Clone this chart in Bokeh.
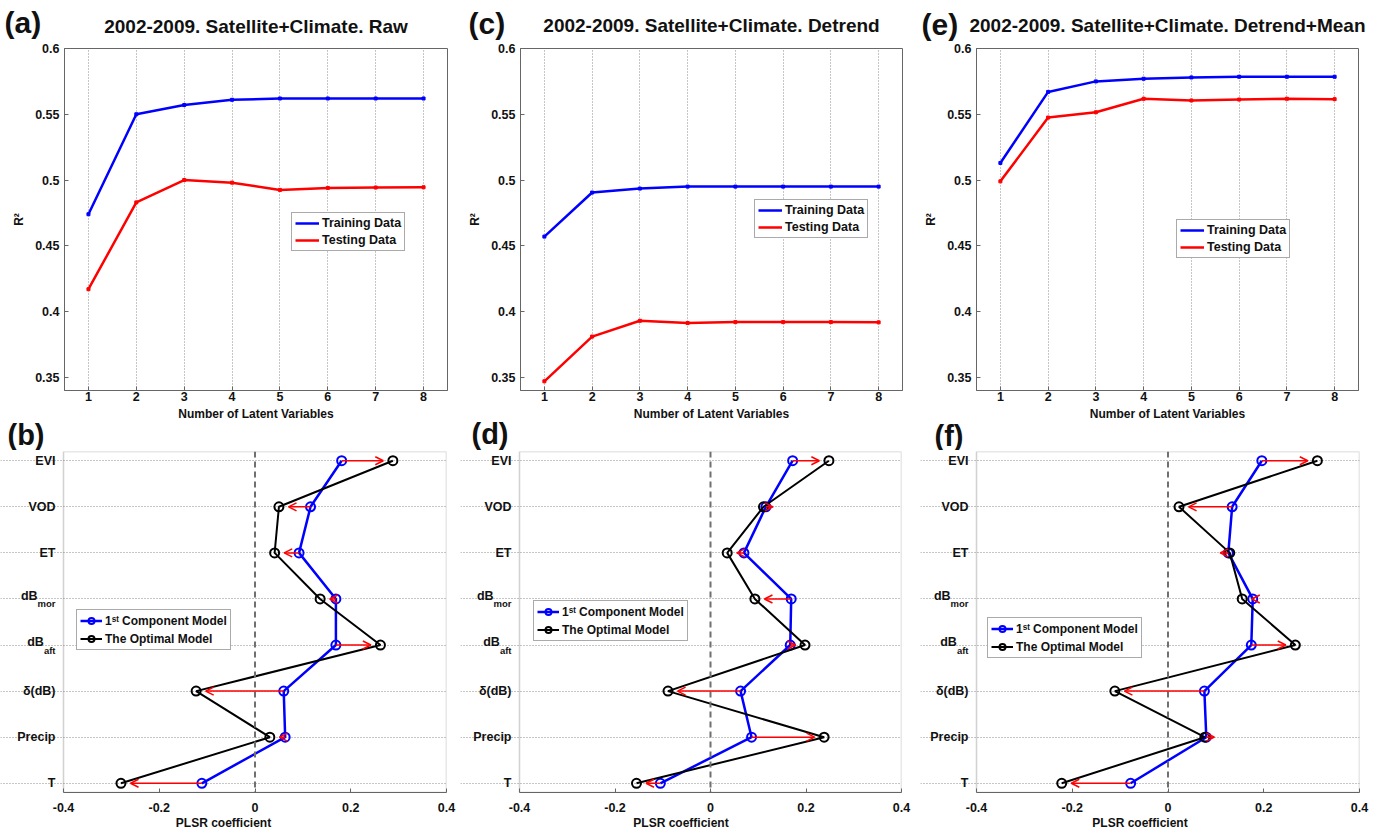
import numpy as np
from bokeh.plotting import figure
from bokeh.models import (Range1d, FixedTicker, Label, Legend, LegendItem, Span,
                          Arrow, OpenHead, ColumnDataSource, BoxAnnotation)
from bokeh.layouts import column, row
from bokeh.embed import file_html
from bokeh.resources import INLINE

# ---------------- data ----------------
n_latent = [1, 2, 3, 4, 5, 6, 7, 8]
train_raw = [0.474, 0.550, 0.557, 0.561, 0.562, 0.562, 0.562, 0.562]
test_raw = [0.417, 0.483, 0.500, 0.498, 0.4925, 0.494, 0.4943, 0.4945]
train_detrend = [0.457, 0.4905, 0.4935, 0.495, 0.495, 0.495, 0.495, 0.495]
test_detrend = [0.347, 0.381, 0.393, 0.3913, 0.392, 0.392, 0.392, 0.3918]
train_dmean = [0.513, 0.567, 0.575, 0.577, 0.578, 0.5785, 0.5785, 0.5785]
test_dmean = [0.499, 0.5475, 0.5515, 0.5618, 0.5605, 0.5612, 0.5618, 0.5615]

r2_ticks = [0.35, 0.4, 0.45, 0.5, 0.55, 0.6]
r2_tick_labels = ["0.35", "0.4", "0.45", "0.5", "0.55", "0.6"]

variables = ["EVI", "VOD", "ET", "dB_mor", "dB_aft", "δ(dB)", "Precip", "T"]
first_raw = [0.181, 0.116, 0.092, 0.169, 0.169, 0.060, 0.063, -0.111]
opt_raw = [0.288, 0.050, 0.041, 0.136, 0.262, -0.123, 0.031, -0.280]
first_detrend = [0.172, 0.116, 0.070, 0.169, 0.167, 0.063, 0.086, -0.105]
opt_detrend = [0.248, 0.111, 0.035, 0.093, 0.198, -0.089, 0.238, -0.155]
first_dmean = [0.196, 0.134, 0.126, 0.177, 0.174, 0.076, 0.080, -0.078]
opt_dmean = [0.312, 0.023, 0.129, 0.155, 0.266, -0.111, 0.077, -0.222]

coef_ticks = [-0.4, -0.2, 0.0, 0.2, 0.4]
coef_tick_labels = ["-0.4", "-0.2", "0", "0.2", "0.4"]

titles = ["2002-2009. Satellite+Climate. Raw",
          "2002-2009. Satellite+Climate. Detrend",
          "2002-2009. Satellite+Climate. Detrend+Mean"]
top_xlabel = "Number of Latent Variables"
letters_top = ["(a)", "(c)", "(e)"]
letters_bottom = ["(b)", "(d)", "(f)"]

FONT = "Liberation Sans"
AX = "#666666"
GRID = "#8c8c8c"
TXT = "#111111"

# ---------------- geometry (pixels) ----------------
W = 1381
col_w = [460, 460, 461]
col_x0 = [0, 460, 920]
top_left = [64, 60, 56]
top_fw = [383, 382, 382]
bot_left = [63, 59, 56]
bot_fw = [383, 382, 383]
STRIP1_H = 42                     # letters + titles
TOP_H, TOP_T, TOP_FH = 363, 6, 342
STRIP2_H = 45                     # x-axis titles of the top row + letters (b),(d),(f)
BOT_H, BOT_T, BOT_FH = 383, 1, 341
top_legend_loc = [(227, 139), (234, 152), (200, 132)]
bot_legend_loc = [(13, 142), (14, 151), (11, 134)]
top_letter_pos = [(4, 22), (468, 23), (921, 24)]
bot_letter_pos = [(7, 434), (471, 433), (934, 435)]
title_y = [26, 25, 25]
xlabel_y = 413

# approximate Arial-bold advance widths (em) for subscript letters
ADV = {"m": 0.889, "o": 0.611, "r": 0.389, "a": 0.556, "f": 0.333, "t": 0.333}


def style_axis(ax, size="12.5px"):
    ax.axis_line_color = AX
    ax.major_tick_line_color = AX
    ax.minor_tick_line_color = None
    ax.major_tick_in = 4
    ax.major_tick_out = 0
    ax.major_label_text_font = FONT
    ax.major_label_text_font_style = "bold"
    ax.major_label_text_font_size = size
    ax.major_label_text_color = TXT
    ax.axis_label_text_font = FONT
    ax.axis_label_text_font_style = "bold"
    ax.axis_label_text_font_size = "12px"
    ax.axis_label_text_color = TXT


def style_legend(leg, size="12.5px"):
    leg.label_text_font = FONT
    leg.label_text_font_style = "bold"
    leg.label_text_font_size = size
    leg.label_text_color = TXT
    leg.border_line_color = "#555555"
    leg.border_line_width = 1
    leg.background_fill_color = "white"
    leg.background_fill_alpha = 1
    leg.padding = 3
    leg.spacing = 3
    leg.margin = 0
    leg.glyph_width = 24
    leg.glyph_height = 14
    leg.label_height = 14
    leg.label_standoff = 3


def strip(height, y_top):
    p = figure(width=W, height=height, x_range=Range1d(0, W),
               y_range=Range1d(y_top + height, y_top),
               output_backend="svg", toolbar_location=None,
               min_border_left=0, min_border_right=0, min_border_top=0, min_border_bottom=0)
    p.axis.visible = False
    p.grid.grid_line_color = None
    p.outline_line_color = None
    p.background_fill_color = "white"
    p.border_fill_color = "white"
    return p


def text_label(p, x, y, text, size, align="left"):
    p.add_layout(Label(x=x, y=y, text=text, text_font=FONT, text_font_style="bold",
                       text_font_size=size, text_align=align, text_baseline="middle",
                       text_color=TXT))


def top_panel(i, train, test):
    w = col_w[i]
    p = figure(width=w, height=TOP_H, x_range=Range1d(0.5, 8.5), y_range=Range1d(0.34, 0.6),
               output_backend="svg", toolbar_location=None,
               min_border_left=top_left[i], min_border_right=w - top_left[i] - top_fw[i],
               min_border_top=TOP_T, min_border_bottom=TOP_H - TOP_T - TOP_FH)
    p.background_fill_color = "white"
    p.border_fill_color = "white"
    p.outline_line_color = AX
    p.xaxis.ticker = FixedTicker(ticks=n_latent)
    p.yaxis.ticker = FixedTicker(ticks=r2_ticks)
    p.yaxis.major_label_overrides = dict(zip(r2_ticks, r2_tick_labels))
    style_axis(p.xaxis[0])
    style_axis(p.yaxis[0])
    p.yaxis.axis_label = "R²"
    p.xaxis.major_label_standoff = 1
    p.yaxis.major_label_standoff = 5
    p.yaxis.axis_label_standoff = 6
    p.xgrid.grid_line_color = GRID
    p.xgrid.grid_line_dash = "1 2"
    p.ygrid.grid_line_color = None

    r1 = p.line(n_latent, train, line_color="#0000ff", line_width=2.5)
    p.scatter(n_latent, train, marker="square", size=3, color="#0000ff")
    r2 = p.line(n_latent, test, line_color="#ff0000", line_width=2.5)
    p.scatter(n_latent, test, marker="square", size=3, color="#ff0000")

    leg = Legend(items=[LegendItem(label="Training Data", renderers=[r1]),
                        LegendItem(label="Testing Data", renderers=[r2])],
                 location=top_legend_loc[i])
    style_legend(leg)
    p.add_layout(leg)
    return p


def bottom_panel(i, first, opt):
    n = len(variables)
    ypos = [n - k for k in range(n)]
    w = col_w[i]
    left, fw = bot_left[i], bot_fw[i]
    px_per_unit = fw / 0.8
    x_start = -0.4 - left / px_per_unit       # frame reaches the column's left edge
    y0, y1 = 0.8, n + 0.2
    p = figure(width=w, height=BOT_H, x_range=Range1d(x_start, 0.4), y_range=Range1d(y0, y1),
               output_backend="svg", toolbar_location=None,
               min_border_left=0, min_border_right=w - left - fw,
               min_border_top=BOT_T, min_border_bottom=BOT_H - BOT_T - BOT_FH)
    p.background_fill_color = "white"
    p.border_fill_color = "white"
    p.outline_line_color = None
    p.yaxis.visible = False
    p.xaxis.ticker = FixedTicker(ticks=coef_ticks)
    p.xaxis.major_label_overrides = dict(zip(coef_ticks, coef_tick_labels))
    p.xaxis.bounds = (-0.4, 0.4)
    style_axis(p.xaxis[0])
    p.xaxis.axis_label = "PLSR coefficient"
    p.xaxis.major_label_standoff = 10
    p.xaxis.axis_label_standoff = 1
    p.xgrid.grid_line_color = None
    p.ygrid.ticker = FixedTicker(ticks=ypos)
    p.ygrid.grid_line_color = GRID
    p.ygrid.grid_line_dash = "1 2"
    p.ygrid.bounds = (-0.4, 0.4)

    # box around the plotting area
    p.add_layout(BoxAnnotation(left=-0.4, right=0.4, bottom=y0, top=y1,
                               fill_alpha=0, line_color=AX, line_width=1.5))

    # category tick labels (left of the box)
    for y, v in zip(ypos, variables):
        if "_" in v:
            base, sub = v.split("_")
            sw = sum(ADV.get(c, 0.55) for c in sub) * 9.5
            p.add_layout(Label(x=-0.4, y=y, x_offset=-8, y_offset=-5, text=sub,
                               text_font=FONT, text_font_style="bold", text_font_size="9.5px",
                               text_align="right", text_baseline="middle", text_color=TXT))
            p.add_layout(Label(x=-0.4, y=y, x_offset=-8 - sw, y_offset=3, text=base,
                               text_font=FONT, text_font_style="bold", text_font_size="12.5px",
                               text_align="right", text_baseline="middle", text_color=TXT))
        else:
            p.add_layout(Label(x=-0.4, y=y, x_offset=-8, text=v,
                               text_font=FONT, text_font_style="bold", text_font_size="12.5px",
                               text_align="right", text_baseline="middle", text_color=TXT))

    p.add_layout(Span(location=0, dimension="height", line_color="#707070",
                      line_dash="6 4", line_width=2))

    l1 = p.line(first, ypos, line_color="#0000ff", line_width=2.5)
    s1 = p.scatter(first, ypos, marker="circle", size=9, fill_color=None,
                   line_color="#0000ff", line_width=2)
    l2 = p.line(opt, ypos, line_color="black", line_width=2)
    s2 = p.scatter(opt, ypos, marker="circle", size=9, fill_color=None,
                   line_color="black", line_width=2)

    f = np.array(first)
    o = np.array(opt)
    x_end = o - 0.02 * np.sign(o - f)
    src = ColumnDataSource(dict(x0=f, x1=x_end, y=ypos))
    p.add_layout(Arrow(end=OpenHead(size=8, line_color="#ff0000", line_width=1.5),
                       x_start="x0", y_start="y", x_end="x1", y_end="y", source=src,
                       line_color="#ff0000", line_width=1.5))

    lx, ly = bot_legend_loc[i]
    leg = Legend(items=[LegendItem(label="1ˢᵗ Component Model", renderers=[l1, s1]),
                        LegendItem(label="The Optimal Model", renderers=[l2, s2])],
                 location=(left + lx, ly))
    style_legend(leg, "12px")
    leg.glyph_width = 22
    leg.label_height = 15
    leg.glyph_height = 15
    p.add_layout(leg)
    return p


# strip with panel letters and titles
s1 = strip(STRIP1_H, 0)
for i in range(3):
    x, y = top_letter_pos[i]
    text_label(s1, x, y, letters_top[i], "30px")
    cx = col_x0[i] + top_left[i] + top_fw[i] / 2
    text_label(s1, cx, title_y[i], titles[i], "19px", align="center")

# strip between the rows: x-axis titles of the top row and letters of the bottom row
y_strip2 = STRIP1_H + TOP_H
s2 = strip(STRIP2_H, y_strip2)
for i in range(3):
    cx = col_x0[i] + top_left[i] + top_fw[i] / 2
    text_label(s2, cx, xlabel_y, top_xlabel, "12px", align="center")
    x, y = bot_letter_pos[i]
    text_label(s2, x, y, letters_bottom[i], "29px")

tops = [top_panel(0, train_raw, test_raw),
        top_panel(1, train_detrend, test_detrend),
        top_panel(2, train_dmean, test_dmean)]
bots = [bottom_panel(0, first_raw, opt_raw),
        bottom_panel(1, first_detrend, opt_detrend),
        bottom_panel(2, first_dmean, opt_dmean)]

layout = column(s1, row(*tops, spacing=0), s2, row(*bots, spacing=0), spacing=0)
open("out.html", "w").write(file_html(layout, INLINE))
